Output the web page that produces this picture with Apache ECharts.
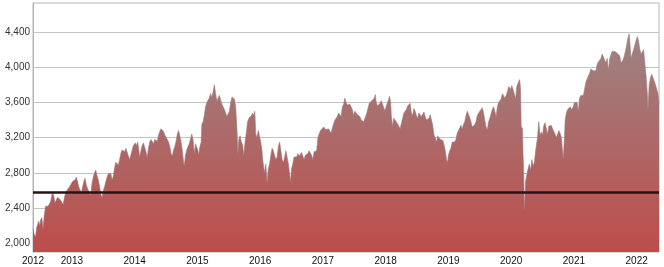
<!DOCTYPE html>
<html><head><meta charset="utf-8">
<script src="https://cdn.jsdelivr.net/npm/echarts@6/dist/echarts.min.js"></script>
<style>html,body{margin:0;padding:0;background:#fff}#c{width:664px;height:267px}</style>
</head><body><div id="c"></div>
<script>
// Decimal-year dates of the index observations
const dates = [
2012.38,2012.40,2012.42,2012.44,2012.46,2012.47,2012.49,2012.50,2012.52,2012.54,2012.56,2012.58,2012.60,2012.62,2012.64,2012.66,2012.69,2012.71,2012.73,2012.75,2012.77,2012.79,2012.81,2012.83,2012.86,2012.88,2012.90,2012.92,2012.94,2012.96,2012.99,
2013.01,2013.03,2013.05,2013.07,2013.09,2013.11,2013.13,2013.15,2013.17,2013.19,2013.21,2013.23,2013.25,2013.27,2013.30,2013.32,2013.34,2013.36,2013.38,2013.40,2013.42,2013.44,2013.46,2013.48,2013.50,2013.52,2013.54,2013.56,2013.58,2013.60,2013.62,2013.64,2013.66,2013.68,2013.70,2013.72,2013.74,2013.76,2013.78,2013.80,2013.82,2013.84,2013.86,2013.88,2013.90,2013.92,2013.94,2013.96,2013.98,
2014.01,2014.03,2014.05,2014.06,2014.08,2014.10,2014.12,2014.14,2014.16,2014.18,2014.20,2014.22,2014.24,2014.26,2014.28,2014.30,2014.32,2014.34,2014.36,2014.38,2014.40,2014.42,2014.44,2014.46,2014.48,2014.50,2014.52,2014.54,2014.56,2014.58,2014.60,2014.62,2014.64,2014.66,2014.68,2014.70,2014.72,2014.74,2014.76,2014.78,2014.79,2014.81,2014.83,2014.85,2014.87,2014.89,2014.91,2014.93,2014.95,2014.97,2014.99,
2015.01,2015.02,2015.04,2015.06,2015.07,2015.09,2015.11,2015.13,2015.15,2015.17,2015.19,2015.21,2015.23,2015.25,2015.27,2015.29,2015.31,2015.33,2015.35,2015.37,2015.39,2015.41,2015.43,2015.45,2015.47,2015.49,2015.51,2015.53,2015.55,2015.57,2015.59,2015.61,2015.63,2015.645,2015.66,2015.68,2015.70,2015.72,2015.74,2015.76,2015.78,2015.80,2015.82,2015.84,2015.86,2015.88,2015.90,2015.915,2015.93,2015.95,2015.97,2015.99,
2016.01,2016.03,2016.04,2016.06,2016.07,2016.09,2016.11,2016.13,2016.15,2016.17,2016.19,2016.21,2016.23,2016.25,2016.27,2016.29,2016.31,2016.33,2016.35,2016.37,2016.39,2016.41,2016.43,2016.45,2016.47,2016.485,2016.50,2016.52,2016.54,2016.56,2016.58,2016.60,2016.62,2016.64,2016.66,2016.68,2016.70,2016.72,2016.74,2016.76,2016.78,2016.80,2016.82,2016.84,2016.86,2016.88,2016.90,2016.92,2016.94,2016.96,2016.99,
2017.01,2017.03,2017.05,2017.07,2017.09,2017.11,2017.13,2017.15,2017.17,2017.19,2017.21,2017.23,2017.25,2017.27,2017.29,2017.31,2017.33,2017.35,2017.37,2017.39,2017.41,2017.43,2017.45,2017.47,2017.49,2017.51,2017.53,2017.55,2017.57,2017.59,2017.61,2017.63,2017.65,2017.66,2017.68,2017.70,2017.72,2017.74,2017.76,2017.78,2017.80,2017.82,2017.835,2017.85,2017.87,2017.89,2017.91,2017.93,2017.95,2017.97,2017.99,
2018.01,2018.03,2018.05,2018.06,2018.08,2018.09,2018.11,2018.13,2018.15,2018.17,2018.19,2018.21,2018.23,2018.25,2018.27,2018.29,2018.31,2018.33,2018.35,2018.37,2018.39,2018.41,2018.43,2018.45,2018.47,2018.49,2018.51,2018.53,2018.55,2018.57,2018.59,2018.61,2018.63,2018.65,2018.67,2018.69,2018.71,2018.73,2018.75,2018.77,2018.79,2018.81,2018.83,2018.85,2018.87,2018.89,2018.91,2018.93,2018.95,2018.97,2018.985,
2019.00,2019.02,2019.04,2019.06,2019.08,2019.10,2019.12,2019.14,2019.16,2019.18,2019.20,2019.22,2019.24,2019.26,2019.28,2019.30,2019.32,2019.34,2019.36,2019.38,2019.40,2019.42,2019.44,2019.46,2019.48,2019.50,2019.52,2019.54,2019.56,2019.58,2019.60,2019.62,2019.64,2019.66,2019.68,2019.70,2019.72,2019.74,2019.76,2019.78,2019.80,2019.82,2019.84,2019.86,2019.88,2019.90,2019.92,2019.94,2019.96,2019.99,
2020.01,2020.03,2020.05,2020.07,2020.09,2020.11,2020.135,2020.15,2020.16,2020.18,2020.19,2020.20,2020.21,2020.23,2020.25,2020.27,2020.29,2020.31,2020.33,2020.35,2020.37,2020.39,2020.42,2020.44,2020.46,2020.48,2020.50,2020.52,2020.54,2020.56,2020.58,2020.60,2020.62,2020.64,2020.66,2020.68,2020.70,2020.72,2020.74,2020.76,2020.78,2020.80,2020.83,2020.85,2020.86,2020.88,2020.90,2020.92,2020.94,2020.96,2020.99,
2021.01,2021.03,2021.05,2021.07,2021.09,2021.11,2021.13,2021.15,2021.17,2021.19,2021.21,2021.23,2021.25,2021.27,2021.29,2021.31,2021.33,2021.35,2021.37,2021.39,2021.41,2021.43,2021.45,2021.47,2021.49,2021.51,2021.53,2021.55,2021.57,2021.59,2021.61,2021.63,2021.65,2021.67,2021.69,2021.71,2021.73,2021.75,2021.76,2021.78,2021.80,2021.82,2021.84,2021.86,2021.88,2021.89,2021.91,2021.93,2021.95,2021.97,2021.99,
2022.01,2022.03,2022.05,2022.07,2022.09,2022.11,2022.13,2022.15,2022.17,2022.18,2022.20,2022.22,2022.24,2022.26,2022.28,2022.30,2022.32,2022.34,2022.356
];
// Index level at each date
const index = [
2165,2100,2070,2180,2160,2250,2200,2265,2290,2170,2320,2420,2440,2420,2440,2470,2580,2540,2460,2450,2520,2540,2500,2480,2440,2520,2570,2600,2620,2640,2635,
2700,2710,2720,2750,2700,2640,2620,2570,2640,2700,2740,2660,2620,2590,2550,2680,2750,2800,2830,2770,2720,2650,2560,2520,2600,2640,2700,2750,2790,2810,2790,2720,2760,2860,2920,2900,2890,2950,3020,3060,3050,3040,3080,3060,2990,2950,3000,3060,3110,
3140,3110,3150,3090,2980,3050,3110,3140,3150,3040,2980,3080,3150,3180,3160,3130,3180,3200,3160,3230,3270,3300,3320,3270,3230,3240,3180,3150,3100,3020,2990,3060,3100,3160,3240,3280,3220,3150,3050,2920,2880,3000,3060,3100,3130,3150,3240,3180,3020,3130,3150,
3050,3000,3100,3150,3350,3380,3450,3550,3600,3580,3650,3700,3660,3720,3800,3700,3620,3600,3680,3630,3580,3560,3520,3530,3440,3440,3500,3600,3660,3650,3640,3550,3300,3020,3180,3220,3150,3120,3000,3150,3260,3380,3420,3400,3450,3480,3450,3500,3240,3200,3280,3268,
3150,3050,2950,2850,2800,2900,2690,2850,2900,3000,3080,3050,3000,2950,2980,3100,3150,3050,2950,2920,2980,3050,3060,2900,2880,2700,2850,2900,2980,2960,2980,3020,2990,3010,3030,2990,2950,3000,2990,3020,3050,3030,3000,2950,3040,3020,3050,3200,3240,3280,3290,
3320,3300,3290,3270,3300,3280,3250,3310,3320,3400,3420,3440,3480,3490,3440,3550,3580,3650,3600,3570,3560,3580,3560,3520,3450,3500,3510,3460,3450,3440,3400,3420,3380,3370,3440,3480,3540,3590,3600,3620,3600,3650,3690,3600,3560,3570,3590,3620,3580,3540,3504,
3560,3600,3640,3670,3600,3450,3330,3420,3440,3380,3400,3330,3300,3360,3420,3480,3500,3520,3560,3570,3590,3480,3450,3530,3500,3450,3420,3480,3500,3440,3460,3490,3440,3400,3380,3420,3460,3440,3340,3230,3200,3150,3220,3230,3180,3160,3170,3120,3050,2950,2920,
3000,3050,3080,3150,3170,3150,3180,3250,3280,3310,3340,3300,3350,3380,3450,3500,3510,3430,3380,3320,3300,3350,3380,3450,3470,3500,3520,3540,3480,3400,3320,3290,3380,3420,3470,3520,3550,3500,3440,3550,3600,3620,3640,3700,3690,3650,3680,3720,3780,3750,
3790,3750,3760,3640,3780,3820,3860,3750,3330,3300,3000,2800,2390,2700,2780,2850,2900,2830,2950,2880,2920,3050,3200,3380,3230,3260,3230,3340,3370,3360,3240,3330,3310,3340,3300,3310,3240,3200,3190,3280,3250,3200,2960,3200,3400,3480,3520,3530,3550,3520,3550,
3600,3620,3600,3500,3650,3680,3700,3680,3750,3830,3840,3900,3930,3980,4000,3960,3980,3960,4030,4060,4080,4100,4150,4120,4080,4050,4100,3960,4100,4120,4180,4200,4180,4200,4160,4150,4130,4050,4030,4080,4120,4180,4250,4330,4380,4300,4100,4150,4200,4250,4300,
4350,4300,4200,4150,4150,4200,4050,3900,3700,3520,3800,3880,3920,3880,3860,3800,3750,3700,3600
];
const yTicks = [2000, 2400, 2800, 3200, 3600, 4000, 4400];
const xTicks = [2012.38, 2013, 2014, 2015, 2016, 2017, 2018, 2019, 2020, 2021, 2022];
const xTickLabels = ['2012', '2013', '2014', '2015', '2016', '2017', '2018', '2019', '2020', '2021', '2022'];
const referenceLevel = 2583;

const seriesData = dates.map((d, i) => [d, index[i]]);
const chart = echarts.init(document.getElementById('c'), null, {renderer: 'canvas'});
chart.setOption({
  animation: false,
  backgroundColor: '#fff',
  grid: {left: 33, right: 5, top: 3, bottom: 15, show: true, borderColor: '#b4b4b4', borderWidth: 1, backgroundColor: 'transparent'},
  xAxis: {
    type: 'value', min: 2012.38, max: 2022.356,
    axisLine: {show: false}, axisTick: {show: false, customValues: xTicks},
    splitLine: {show: false},
    axisLabel: {customValues: xTicks, margin: 4, fontSize: 10, color: '#111', fontFamily: 'Liberation Sans, Arial, sans-serif',
      formatter: v => { let best = 0; xTicks.forEach((t, i) => { if (Math.abs(t - v) < Math.abs(xTicks[best] - v)) best = i; }); return xTickLabels[best]; }}
  },
  yAxis: {
    type: 'value', min: 1900, max: 4730,
    axisLine: {show: true, lineStyle: {color: '#b4b4b4'}},
    axisTick: {show: false, customValues: yTicks},
    splitLine: {show: true, lineStyle: {color: '#c4c4c4', width: 1}},
    axisLabel: {customValues: yTicks, margin: 3, fontSize: 10, color: '#333', fontFamily: 'Liberation Sans, Arial, sans-serif',
      formatter: v => Number(v).toLocaleString('en-US')}
  },
  series: [{
    type: 'line', data: seriesData, symbol: 'none', showSymbol: false,
    lineStyle: {width: 0.6, color: '#a07a7a'},
    areaStyle: {opacity: 1, color: new echarts.graphic.LinearGradient(0, 0, 0, 1, [
      {offset: 0, color: '#9d8383'}, {offset: 1, color: '#bd4d4b'}])},
    markLine: {silent: true, symbol: 'none', label: {show: false},
      lineStyle: {color: '#281414', width: 2.5, type: 'solid'},
      data: [{yAxis: referenceLevel}]}
  }]
});
</script></body></html>
